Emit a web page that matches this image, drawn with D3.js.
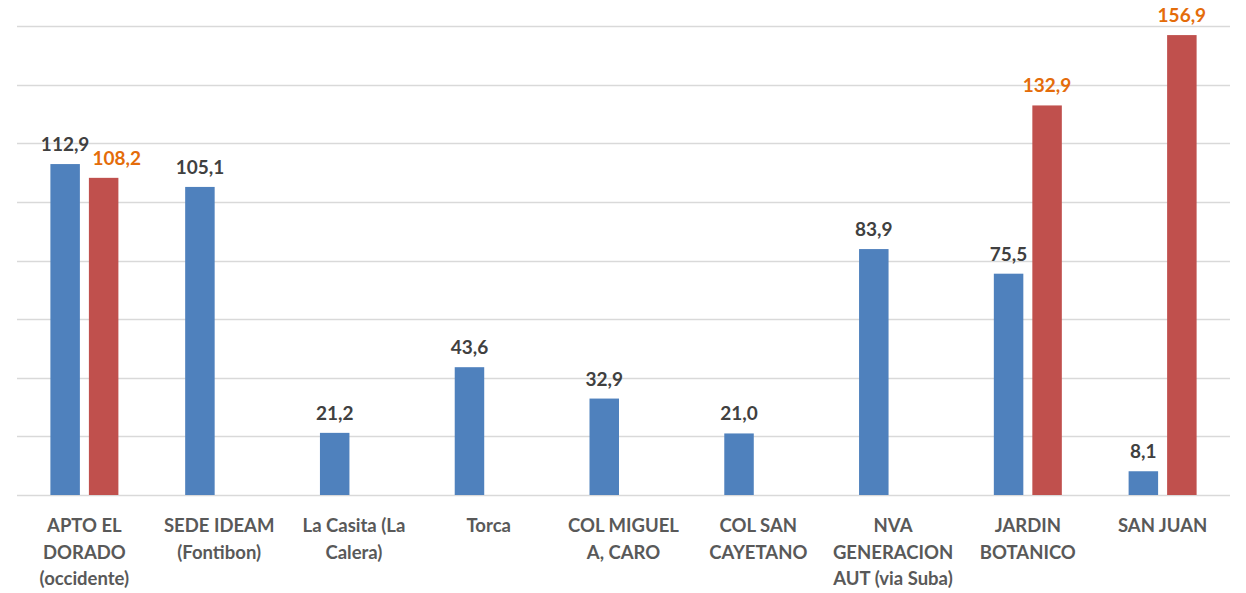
<!DOCTYPE html>
<html><head><meta charset="utf-8">
<script src="https://cdn.jsdelivr.net/npm/d3@7"></script>
<style>body{margin:0;background:#fff}svg{display:block}</style>
</head><body>
<svg id="c" width="1246" height="593"></svg>
<script>
const categories = [
  ["APTO EL","DORADO","(occidente)"],
  ["SEDE IDEAM","(Fontibon)"],
  ["La Casita (La","Calera)"],
  ["Torca"],
  ["COL MIGUEL","A, CARO"],
  ["COL SAN","CAYETANO"],
  ["NVA","GENERACION","AUT (via Suba)"],
  ["JARDIN","BOTANICO"],
  ["SAN JUAN"]
];
const seriesA = [112.9, 105.1, 21.2, 43.6, 32.9, 21.0, 83.9, 75.5, 8.1];
const seriesB = [108.2, null, null, null, null, null, null, 132.9, 156.9];
const yTicks = [0,20,40,60,80,100,120,140,160];

(function(){
const svg = d3.select("#c");
const mL = 17, mR = 1230, mT = 26, mB = 495;
const x0 = d3.scaleBand().domain(d3.range(categories.length)).range([mL,mR]);
const x1 = d3.scaleBand().domain(["a","b"]).range([-34,34]).paddingInner(0.234);
const y = d3.scaleLinear().domain([0,160]).range([mB,mT]);

svg.append("g").selectAll("line").data(yTicks).join("line")
  .attr("x1",mL).attr("x2",mR)
  .attr("y1",d=>Math.round(y(d))+0.5).attr("y2",d=>Math.round(y(d))+0.5)
  .attr("stroke","#d9d9d9").attr("stroke-width",1.3);

const fmt = v => v.toFixed(1).replace(".",",");
const series = [{k:"a",vals:seriesA,color:"#4F81BD",lc:"#404040"},{k:"b",vals:seriesB,color:"#C0504D",lc:"#E46C0A"}];
const labelNodes = {a:{}, b:{}};
series.forEach(s=>{
  const data = s.vals.map((v,i)=>({v,i})).filter(d=>d.v!=null);
  const g = svg.append("g");
  g.selectAll("rect").data(data).join("rect")
    .attr("x",d=>x0(d.i)+x0.bandwidth()/2+x1(s.k))
    .attr("width",x1.bandwidth())
    .attr("y",d=>y(d.v)).attr("height",d=>y(0)-y(d.v))
    .attr("fill",s.color);
  g.selectAll("text").data(data).join("text")
    .attr("x",d=>x0(d.i)+x0.bandwidth()/2+x1(s.k)+x1.bandwidth()/2)
    .attr("y",d=>y(d.v)-13)
    .attr("text-anchor","middle")
    .attr("font-family","Lato, 'Open Sans', sans-serif")
    .attr("font-weight","bold").attr("font-size","19px")
    .attr("fill",s.lc).text(d=>fmt(d.v))
    .each(function(d){ labelNodes[s.k][d.i] = this; });
});
// avoid overlap between paired labels
Object.keys(labelNodes.b).forEach(i=>{
  const a = labelNodes.a[i], b = labelNodes.b[i];
  if(!a||!b) return;
  const ba = a.getBBox(), bb = b.getBBox();
  const overlapY = !(bb.y > ba.y+ba.height || ba.y > bb.y+bb.height);
  if(overlapY && bb.x < ba.x+ba.width+3){
    const dx = ba.x+ba.width+3 - bb.x;
    b.setAttribute("x", +b.getAttribute("x")+dx);
  }
});

const xl = svg.append("g").attr("font-family","Lato, 'Open Sans', sans-serif")
  .attr("font-weight","bold").attr("font-size","18.5px").attr("fill","#595959");
categories.forEach((lines,i)=>{
  const t = xl.append("text").attr("text-anchor","middle");
  lines.forEach((ln,j)=>{
    t.append("tspan").attr("x",x0(i)+x0.bandwidth()/2).attr("y",532+j*26.5).text(ln);
  });
});
})();
</script>
</body></html>
